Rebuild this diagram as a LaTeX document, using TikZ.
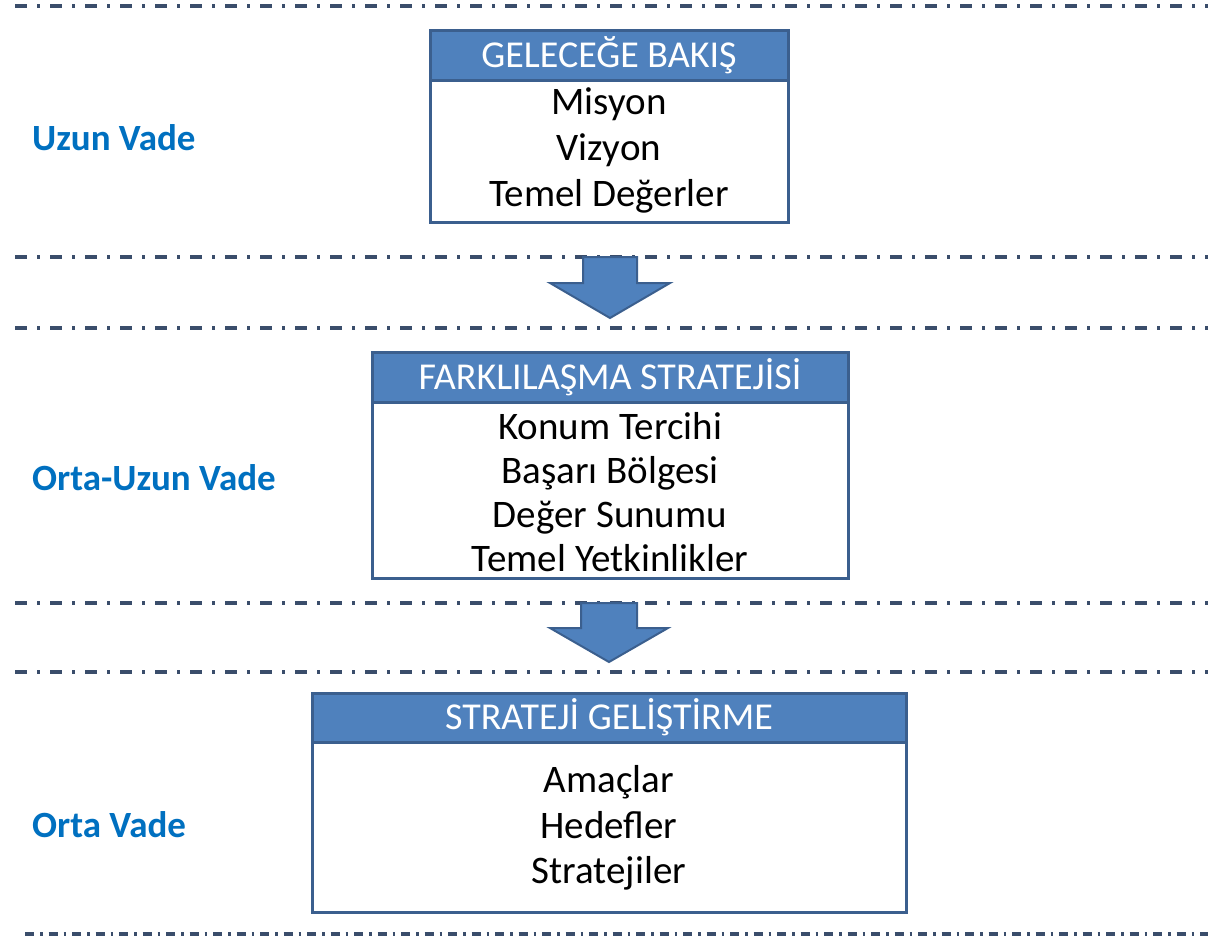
\documentclass[tikz,border=0pt]{standalone}
\usepackage{fontspec}
\setmainfont{Carlito}
\definecolor{hdr}{HTML}{4F81BD}
\definecolor{edge}{HTML}{3B5F8E}
\definecolor{sep}{HTML}{3A4D6B}
\definecolor{lbl}{HTML}{0070C0}
\tikzset{
 sepline/.style={draw=sep, line width=3.5pt, dash pattern=on 12pt off 10pt on 3pt off 10pt},
 seplinefine/.style={draw=sep, line width=3.5pt, dash pattern=on 9pt off 6pt on 2.5pt off 6pt},
 hdrbox/.style={draw=edge, fill=hdr, line width=3pt, text=white, font=\fontsize{38}{44}\selectfont, inner sep=0pt},
 bodybox/.style={draw=edge, fill=white, line width=3pt, inner sep=0pt},
 bodytext/.style={align=center, inner sep=0pt, font=\fontsize{39}{46}\selectfont},
 vade/.style={anchor=west, inner sep=0pt, text=lbl, font=\bfseries\fontsize{37}{42}\selectfont},
 blockarrow/.style={fill=hdr, draw=edge, line width=2pt, line join=miter}
}
\begin{document}
\begin{tikzpicture}[x=1pt,y=-1pt]
\useasboundingbox (0,0) rectangle (1208,938);
% separator lines
\coordinate (l1a) at (15,6);   \coordinate (l1b) at (1208,6);
\coordinate (l2a) at (15,257); \coordinate (l2b) at (1208,257);
\coordinate (l3a) at (15,328); \coordinate (l3b) at (1208,328);
\coordinate (l4a) at (15,603); \coordinate (l4b) at (1208,603);
\coordinate (l5a) at (15,672); \coordinate (l5b) at (1208,672);
\coordinate (l6a) at (25,934); \coordinate (l6b) at (1208,934);
\draw[sepline] (l1a) -- (l1b);
\draw[sepline] (l2a) -- (l2b);
\draw[sepline] (l3a) -- (l3b);
\draw[sepline] (l4a) -- (l4b);
\draw[sepline] (l5a) -- (l5b);
\draw[seplinefine] (l6a) -- (l6b);
% box 1
\node[bodybox, minimum width=358pt, minimum height=142pt] (b1) at (609,151) {};
\node[hdrbox, minimum width=358pt, minimum height=50pt] (h1) at (609,55) {GELECEĞE BAKIŞ};
\node[bodytext] (t1) at (609,150) {Misyon\\Vizyon\\Temel Değerler};
% box 2
\node[bodybox, minimum width=476pt, minimum height=176pt] (b2) at (610,490) {};
\node[hdrbox, minimum width=476pt, minimum height=50pt] (h2) at (610,377) {FARKLILAŞMA STRATEJİSİ};
\node[bodytext, font=\fontsize{39}{44}\selectfont] (t2) at (610,492) {Konum Tercihi\\Başarı Bölgesi\\Değer Sunumu\\Temel Yetkinlikler};
% box 3
\node[bodybox, minimum width=594pt, minimum height=170pt] (b3) at (609,827) {};
\node[hdrbox, minimum width=594pt, minimum height=49pt] (h3) at (609,717.5) {STRATEJİ GELİŞTİRME};
\node[bodytext, font=\fontsize{39}{45.5}\selectfont] (t3) at (609,828) {Amaçlar\\Hedefler\\Stratejiler};
% block arrows
\draw[blockarrow] (583,257) -- (637,257) -- (637,283) -- (670,283) -- (610,318) -- (550,283) -- (583,283) -- cycle;
\draw[blockarrow] (581,603) -- (637,603) -- (637,628) -- (668,628) -- (609,662) -- (550,628) -- (581,628) -- cycle;
% labels
\node[vade] (v1) at (32,138) {Uzun Vade};
\node[vade] (v2) at (32,478) {Orta-Uzun Vade};
\node[vade] (v3) at (32,825) {Orta Vade};
\end{tikzpicture}
\end{document}
